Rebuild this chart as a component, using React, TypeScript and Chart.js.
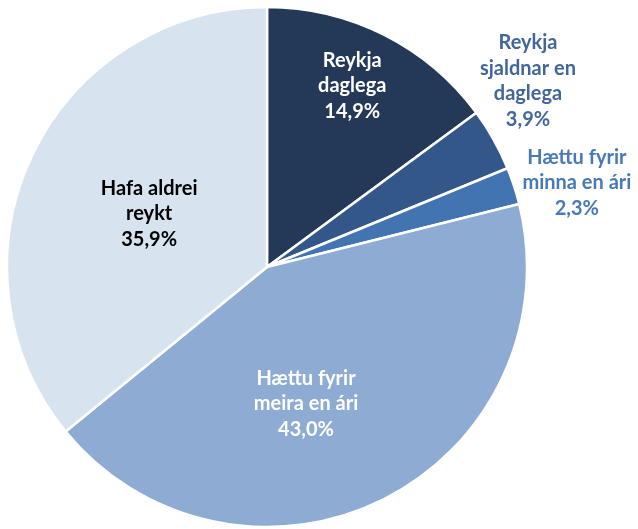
import React, { useEffect, useRef } from "react";
import { Chart, registerables } from "chart.js";

Chart.register(...registerables);

const categories: string[][] = [
  ["Reykja", "daglega"],
  ["Reykja", "sjaldnar en", "daglega"],
  ["Hættu fyrir", "minna en ári"],
  ["Hættu fyrir", "meira en ári"],
  ["Hafa aldrei", "reykt"],
];
const values = [14.9, 3.9, 2.3, 43.0, 35.9];
const sliceColors = ["#243858", "#34578a", "#4374b2", "#8dabd3", "#d7e3ef"];
const labelColors = ["#ffffff", "#41669a", "#4779b6", "#ffffff", "#000000"];
// label anchor: [angle from 12 o'clock in degrees, fraction of radius]
const labelPolar: [number, number][] = [
  [25.2, 0.77],
  [54.5, 1.233],
  [74.8, 1.235],
  [164.1, 0.548],
  [294.2, 0.497],
];

const FONT = "bold 20px Lato";
const LINE_H = 25.5;

const labelPlugin = {
  id: "pieLabels",
  afterDatasetsDraw(chart: any) {
    const ctx = chart.ctx;
    const meta = chart.getDatasetMeta(0);
    ctx.save();
    ctx.font = FONT;
    ctx.textAlign = "center";
    ctx.textBaseline = "middle";
    meta.data.forEach((arc: any, i: number) => {
      const [deg, frac] = labelPolar[i];
      const a = (deg * Math.PI) / 180;
      const r = arc.outerRadius * frac;
      const cx = arc.x + Math.sin(a) * r;
      const cy = arc.y - Math.cos(a) * r;
      const lines = [...categories[i], values[i].toFixed(1).replace(".", ",") + "%"];
      const top = cy - ((lines.length - 1) * LINE_H) / 2;
      ctx.fillStyle = labelColors[i];
      lines.forEach((ln, k) => ctx.fillText(ln, cx, top + k * LINE_H));
    });
    ctx.restore();
  },
};

export default function App() {
  const ref = useRef<HTMLCanvasElement>(null);
  useEffect(() => {
    if (!ref.current) return;
    const chart = new Chart(ref.current, {
      type: "pie",
      data: {
        labels: categories.map((c) => c.join(" ")),
        datasets: [
          {
            data: values,
            backgroundColor: sliceColors,
            borderColor: "#ffffff",
            borderWidth: 2.5,
          },
        ],
      },
      options: {
        animation: false,
        responsive: true,
        maintainAspectRatio: false,
        radius: 260,
        layout: { padding: { left: 0, right: 104, top: 5, bottom: 0 } },
        plugins: { legend: { display: false }, tooltip: { enabled: false } },
      },
      plugins: [labelPlugin],
    });
    return () => chart.destroy();
  }, []);
  return (
    <div style={{ position: "absolute", left: 0, top: 0, width: 638, height: 529, background: "#fff" }}>
      <canvas ref={ref} />
    </div>
  );
}
